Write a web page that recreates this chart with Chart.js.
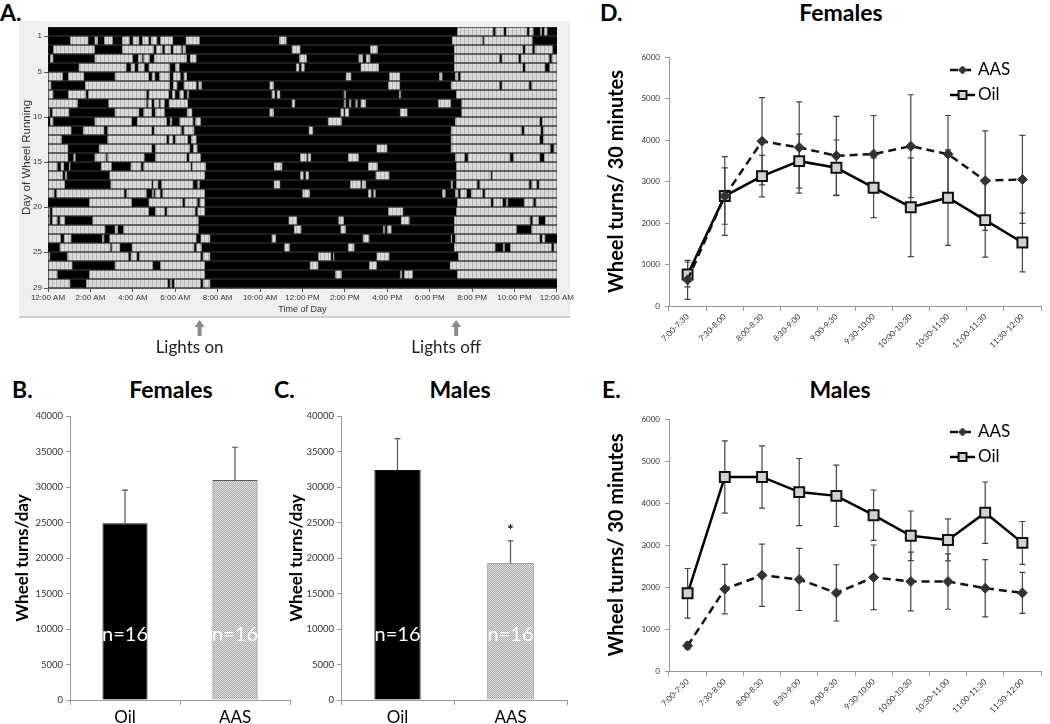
<!DOCTYPE html>
<html>
<head>
<meta charset="utf-8">
<script src="https://cdn.jsdelivr.net/npm/chart.js@4.4.0/dist/chart.umd.min.js"></script>
<style>
  body { margin: 0; width: 1050px; height: 724px; position: relative; overflow: hidden; background: #fff; font-family: Lato, sans-serif; }
  canvas { position: absolute; }
  .lbl { position: absolute; font-weight: bold; font-size: 23px; line-height: 1; white-space: nowrap; color: #000; }
  .ttl { transform: translateX(-50%); }
</style>
</head>
<body>
<div class="lbl" style="left:0;top:1px">A.</div>
<div class="lbl" style="left:12px;top:378px">B.</div>
<div class="lbl" style="left:274px;top:378px">C.</div>
<div class="lbl" style="left:600px;top:1px">D.</div>
<div class="lbl" style="left:602px;top:378px">E.</div>
<div class="lbl ttl" style="left:171px;top:378px">Females</div>
<div class="lbl ttl" style="left:460px;top:378px">Males</div>
<div class="lbl ttl" style="left:841px;top:1px">Females</div>
<div class="lbl ttl" style="left:840px;top:378px">Males</div>

<canvas id="actogram" width="575" height="365" style="left:0;top:0"></canvas>
<canvas id="barF" width="300" height="359" style="left:0;top:365px"></canvas>
<canvas id="barM" width="300" height="359" style="left:272px;top:365px"></canvas>
<canvas id="lineF" width="475" height="365" style="left:575px;top:0"></canvas>
<canvas id="lineM" width="475" height="354" style="left:575px;top:370px"></canvas>

<script>
// ---- A. actogram : gray = wheel running bouts (hours), rest of each day is black
var hourLabels = ['12:00 AM', '2:00 AM', '4:00 AM', '6:00 AM', '8:00 AM', '10:00 AM', '12:00 PM',
  '2:00 PM', '4:00 PM', '6:00 PM', '8:00 PM', '10:00 PM', '12:00 AM'];
var dayTicks = [1, 5, 10, 15, 20, 25, 29];
var runBouts = [
  [[19.3,21.0],[21.1,21.5],[21.6,22.6],[22.7,22.9],[23.2,23.3],[23.4,23.55]],
  [[1.05,1.9],[2.2,2.35],[2.65,3.05],[3.5,3.85],[4.0,4.3],[4.45,4.75],[4.85,5.15],[5.3,5.9],[6.5,7.15],[10.9,11.25],[19.05,20.5],[20.55,22.85]],
  [[0.25,2.2],[3.5,5.0],[5.1,5.4],[5.5,5.8],[5.9,6.3],[6.35,6.5],[11.5,11.9],[15.2,15.55],[19.15,22.4],[22.5,22.85],[22.95,23.8]],
  [[0.1,0.25],[2.2,4.0],[4.25,4.45],[4.5,4.8],[5.0,6.55],[6.7,7.0],[11.85,12.2],[14.65,14.85],[15.0,15.2],[19.15,21.3],[21.4,22.2],[22.3,23.65],[23.75,24]],
  [[1.45,3.7],[3.9,4.1],[4.25,4.55],[4.75,5.75],[6.0,6.2],[11.7,11.85],[11.95,12.1],[14.75,15.6],[19.15,22.4],[22.5,23.45],[23.65,24]],
  [[0,0.7],[0.95,1.7],[3.15,4.75],[4.9,5.05],[5.25,5.75],[5.9,6.25],[6.4,6.55],[14.05,14.3],[16.1,16.6],[18.45,18.6],[19.2,19.35],[19.45,24]],
  [[0,0.15],[1.75,5.75],[5.9,6.1],[6.4,7.0],[7.1,7.25],[10.45,10.65],[16.05,16.6],[19.0,21.3],[21.4,22.7],[22.8,24]],
  [[0,0.25],[0.95,1.8],[1.9,4.65],[4.75,5.7],[5.85,6.0],[6.2,6.4],[6.55,6.65],[10.55,10.7],[10.8,10.95],[13.95,14.05],[16.55,16.65],[19.25,24]],
  [[0,1.4],[2.85,4.65],[4.7,4.9],[5.0,5.25],[5.3,5.5],[5.7,6.6],[11.5,11.65],[13.95,14.05],[14.2,14.3],[14.5,14.6],[14.75,15.0],[18.4,19.0],[19.5,24]],
  [[0,0.1],[0.2,1.0],[3.15,4.3],[4.5,4.9],[5.05,5.5],[6.55,6.8],[10.45,10.65],[13.8,13.95],[14.0,14.2],[16.6,16.95],[19.5,24]],
  [[0.1,0.25],[2.2,3.95],[4.2,5.6],[5.75,5.85],[6.2,6.85],[6.95,7.2],[13.2,13.85],[19.2,23.2],[23.3,24]],
  [[0,1.1],[1.65,2.65],[2.8,4.9],[5.0,6.3],[6.4,6.9],[12.3,12.5],[19.0,22.35],[22.45,23.25],[23.35,24]],
  [[0,0.65],[2.8,5.6],[5.7,5.9],[6.0,6.6],[6.75,7.0],[19.0,23.2],[23.35,24]],
  [[0,0.95],[2.4,4.9],[5.05,6.7],[6.85,7.05],[15.5,16.0],[19.0,23.7],[23.85,24]],
  [[0,0.95],[1.2,1.3],[2.2,2.75],[2.8,4.55],[5.05,6.55],[6.65,7.2],[11.9,12.2],[12.25,12.4],[14.15,14.65],[19.2,19.65],[19.8,21.8],[21.95,23.2],[23.4,24]],
  [[0,0.45],[0.6,0.75],[1.0,1.05],[2.5,3.0],[3.9,4.4],[4.5,6.75],[6.8,7.45],[10.65,11.05],[15.1,15.55],[19.25,24]],
  [[0,0.7],[0.8,0.9],[2.9,7.4],[11.9,12.05],[12.15,12.3],[15.45,16.1],[19.25,20.9],[20.95,24]],
  [[0,0.8],[2.95,4.9],[4.95,5.2],[5.35,6.85],[7.05,7.15],[10.65,10.95],[14.25,14.75],[14.8,15.0],[19.0,19.1],[19.25,20.25],[20.35,22.7],[22.8,23.05],[23.15,24]],
  [[0,0.3],[0.4,3.6],[3.7,4.65],[4.9,5.0],[5.05,5.3],[5.4,7.4],[12.0,12.35],[15.1,15.25],[15.35,15.45],[18.6,18.75],[19.2,19.35],[19.45,19.75],[19.95,20.5],[20.6,24]],
  [[1.95,3.95],[4.75,6.35],[6.45,7.05],[7.15,7.4],[19.3,20.9],[21.0,21.45],[21.6,21.7],[22.45,22.9],[23.0,24]],
  [[0,0.1],[0.2,4.75],[5.05,5.5],[5.6,6.95],[7.05,7.4],[16.05,16.75],[19.25,24]],
  [[0,0.1],[0.2,0.45],[0.55,0.8],[2.1,7.1],[11.35,11.75],[13.7,13.95],[16.65,17.05],[19.15,22.75],[22.85,23.15],[23.45,24]],
  [[0,2.7],[3.15,3.3],[3.55,7.1],[11.6,11.95],[13.8,14.05],[15.8,15.9],[16.0,16.2],[19.15,22.1],[22.8,24]],
  [[0,0.6],[0.75,1.1],[2.55,2.65],[2.9,7.0],[7.2,7.65],[10.55,10.75],[14.85,15.15],[19.0,19.05],[19.2,23.2],[23.3,23.45]],
  [[0.55,2.95],[3.0,3.4],[3.95,6.9],[7.0,7.25],[11.15,11.4],[14.15,14.45],[19.15,21.1],[21.45,21.55],[21.8,23.75],[23.85,24]],
  [[0,0.1],[0.9,3.8],[3.9,4.2],[4.3,7.2],[7.3,7.65],[12.75,13.35],[13.45,13.5],[15.5,16.1],[19.35,24]],
  [[0,1.15],[3.15,4.95],[5.3,7.4],[12.35,12.75],[15.15,15.5],[18.95,24]],
  [[0,0.45],[1.95,7.4],[13.55,13.85],[16.6,16.7],[16.8,17.2],[19.3,24]],
  [[0,1.05],[1.8,5.65],[5.75,5.85],[5.95,7.2],[7.3,7.65]]
];
var lightMarks = [{ hour: 7.15, text: 'Lights on' }, { hour: 19.25, text: 'Lights off' }];

// ---- B./C. total wheel turns per day
var groups = ['Oil', 'AAS'];
var femaleDay = [24900, 31000];
var femaleDayErr = [4650, 4600];
var maleDay = [32400, 19250];
var maleDayErr = [4400, 3150];
var groupN = ['n=16', 'n=16'];
var maleSig = ['', '*'];

// ---- D./E. wheel turns per 30 min after lights on
var timeBins = ['7:00-7:30', '7:30-8:00', '8:00-8:30', '8:30-9:00', '9:00-9:30',
  '9:30-10:00', '10:00-10:30', '10:30-11:00', '11:00-11:30', '11:30-12:00'];
var femAAS = [630, 2650, 3970, 3820, 3620, 3660, 3850, 3660, 3020, 3050];
var femAASErr = [470, 680, 1050, 1100, 950, 930, 1240, 930, 1200, 1060];
var femOil = [760, 2650, 3130, 3490, 3330, 2850, 2380, 2610, 2070, 1530];
var femOilErr = [300, 950, 500, 650, 670, 720, 1190, 1150, 890, 710];
var malAAS = [600, 1950, 2280, 2180, 1860, 2230, 2130, 2130, 1970, 1860];
var malAASErr = [80, 590, 740, 740, 670, 770, 700, 660, 680, 490];
var malOil = [1850, 4620, 4620, 4260, 4170, 3710, 3220, 3120, 3770, 3050];
var malOilErr = [590, 860, 740, 800, 730, 600, 590, 500, 730, 510];

Chart.defaults.font.family = 'Lato, sans-serif';
Chart.defaults.color = '#222';
Chart.defaults.animation = false;
Chart.defaults.responsive = false;
Chart.defaults.plugins.legend.display = false;
Chart.defaults.plugins.tooltip.enabled = false;

// plain numbers on the value axes (no thousands comma)
function plain(v) { return String(v); }

// small repeat patterns for the gray fills
function makePattern(w, h, paint) {
  var c = document.createElement('canvas');
  c.width = w; c.height = h;
  var g = c.getContext('2d');
  paint(g);
  return g.createPattern(c, 'repeat');
}
var binFill = makePattern(4, 1, function (g) {
  g.fillStyle = '#dadada'; g.fillRect(0, 0, 4, 1);
  g.fillStyle = '#b4b4b4'; g.fillRect(0, 0, 1, 1);
});
var dotFill = makePattern(2, 2, function (g) {
  g.fillStyle = '#e4e4e4'; g.fillRect(0, 0, 2, 2);
  g.fillStyle = '#a6a6a6'; g.fillRect(0, 0, 1, 1); g.fillRect(1, 1, 1, 1);
});

// ---------------- A. actogram
var nDays = runBouts.length;
var activity = [];
for (var d = 1; d <= nDays; d++) activity.push({ x: [0, 24], y: d - 0.5 });
runBouts.forEach(function (bouts, i) {
  bouts.forEach(function (b) { activity.push({ x: b, y: i + 0.5 }); });
});

var actogramDecor = {
  id: 'actogramDecor',
  beforeDraw: function (chart) {
    var ctx = chart.ctx, a = chart.chartArea;
    ctx.save();
    ctx.fillStyle = '#efefef';
    ctx.fillRect(19, 21, 551, 296);
    ctx.fillStyle = '#cdcdcd';
    ctx.fillRect(19, 316, 551, 2);
    ctx.fillStyle = '#7c7c7c';  // shows through as thin lines between days
    ctx.fillRect(a.left, a.top, a.width, a.height);
    ctx.restore();
  },
  afterDraw: function (chart) {
    var ctx = chart.ctx, xs = chart.scales.x;
    ctx.save();
    lightMarks.forEach(function (m) {
      var x = xs.getPixelForValue(m.hour);
      ctx.fillStyle = '#8a8a8a';
      ctx.beginPath();
      ctx.moveTo(x - 5, 327); ctx.lineTo(x, 320); ctx.lineTo(x + 5, 327);
      ctx.closePath(); ctx.fill();
      ctx.fillRect(x - 2, 326, 4, 10);
      ctx.fillStyle = '#222';
      ctx.font = '17px Lato';
      ctx.textAlign = 'center';
      ctx.textBaseline = 'middle';
      ctx.fillText(m.text, x - 10, 348);
    });
    ctx.restore();
  }
};

new Chart(document.getElementById('actogram'), {
  type: 'bar',
  data: {
    datasets: [{
      data: activity,
      barThickness: 8,
      borderSkipped: false,
      backgroundColor: function (c) { return c.dataIndex < nDays ? '#000' : binFill; },
      borderColor: '#8a8a8a',
      borderWidth: function (c) { return c.dataIndex < nDays ? 0 : { left: 1, right: 1, top: 0, bottom: 0 }; }
    }]
  },
  options: {
    indexAxis: 'y',
    layout: { padding: { left: 20, right: 17, top: 27, bottom: 50 } },
    scales: {
      x: {
        type: 'linear', min: 0, max: 24,
        ticks: {
          stepSize: 2, maxRotation: 0, autoSkip: false, padding: 1,
          font: { family: 'Liberation Sans', size: 8 }, color: '#333',
          callback: function (v) { return hourLabels[Math.round(v / 2)]; }
        },
        grid: { drawOnChartArea: false, tickLength: 4, color: '#555' },
        border: { color: '#555' },
        title: { display: true, text: 'Time of Day', padding: 0, font: { family: 'Liberation Sans', size: 9 }, color: '#333' },
        afterFit: function (s) { s.height = 27; }
      },
      y: {
        type: 'linear', reverse: true, min: 0, max: 29, offset: false,
        afterBuildTicks: function (s) { s.ticks = dayTicks.map(function (v) { return { value: v }; }); },
        ticks: { padding: 2, font: { family: 'Liberation Sans', size: 8 }, color: '#333' },
        grid: { offset: false, drawOnChartArea: false, tickLength: 4, color: '#555' },
        border: { color: '#555' },
        title: { display: true, text: 'Day of Wheel Running', padding: 0, font: { family: 'Liberation Sans', size: 11.5 }, color: '#333' },
        afterFit: function (s) { s.width = 28; }
      }
    }
  },
  plugins: [actogramDecor]
});

// ---------------- error bars, shared by B-E
function drawErrors(chart) {
  var ctx = chart.ctx, ys = chart.scales.y;
  chart.data.datasets.forEach(function (ds, i) {
    if (!ds.errors) return;
    chart.getDatasetMeta(i).data.forEach(function (el, j) {
      var v = ds.data[j], e = ds.errors[j];
      var top = ys.getPixelForValue(v + e);
      var bot = ys.getPixelForValue(ds.errorUpOnly ? v : v - e);
      ctx.save();
      ctx.strokeStyle = ds.errorColor || '#444';
      ctx.lineWidth = 1.2;
      ctx.beginPath();
      ctx.moveTo(el.x, bot); ctx.lineTo(el.x, top);
      ctx.moveTo(el.x - 3, top); ctx.lineTo(el.x + 3, top);
      if (!ds.errorUpOnly) { ctx.moveTo(el.x - 3, bot); ctx.lineTo(el.x + 3, bot); }
      ctx.stroke();
      ctx.restore();
    });
  });
}
var errorBars = {
  id: 'errorBars',
  beforeDatasetsDraw: function (chart) { if (chart.config.type === 'line') drawErrors(chart); },
  afterDatasetsDraw: function (chart) { if (chart.config.type === 'bar') drawErrors(chart); }
};

// n= labels inside the bars and significance star
var barNotes = {
  id: 'barNotes',
  afterDatasetsDraw: function (chart) {
    var ctx = chart.ctx, ys = chart.scales.y;
    chart.data.datasets.forEach(function (ds, i) {
      chart.getDatasetMeta(i).data.forEach(function (el, j) {
        ctx.save();
        ctx.textAlign = 'center';
        ctx.textBaseline = 'middle';
        ctx.fillStyle = '#fff';
        ctx.font = '20px Lato';
        ctx.fillText(ds.nLabels[j], el.x, ys.getPixelForValue(9200));
        if (ds.sigMarks && ds.sigMarks[j]) {
          ctx.fillStyle = '#000';
          ctx.font = 'bold 15px Lato';
          ctx.fillText(ds.sigMarks[j], el.x, ys.getPixelForValue(ds.data[j] + ds.errors[j]) - 11);
        }
        ctx.restore();
      });
    });
  }
};

function dayChart(id, values, errs, sig, padLeft, axisWidth, padRight) {
  return new Chart(document.getElementById(id), {
    type: 'bar',
    data: {
      labels: groups,
      datasets: [{
        data: values, errors: errs, errorUpOnly: true, errorColor: '#555',
        nLabels: groupN, sigMarks: sig,
        backgroundColor: ['#000', dotFill],
        borderColor: ['#111', '#555'],
        borderWidth: 1,
        barPercentage: 0.41, categoryPercentage: 1
      }]
    },
    options: {
      layout: { padding: { left: padLeft, right: padRight, top: 51, bottom: 0 } },
      scales: {
        x: {
          ticks: { font: { size: 17 }, color: '#000', padding: 2 },
          grid: { drawOnChartArea: false, tickLength: 5, color: '#999' },
          border: { color: '#999' },
          afterFit: function (s) { s.height = 24; }
        },
        y: {
          min: 0, max: 40000,
          ticks: { stepSize: 5000, font: { size: 9.5 }, color: '#333', padding: 3, callback: plain },
          grid: { drawOnChartArea: false, tickLength: 4, color: '#999' },
          border: { color: '#999' },
          title: { display: true, text: 'Wheel turns/day', padding: 0, font: { size: 17, weight: 'bold' }, color: '#000' },
          afterFit: function (s) { s.width = axisWidth; }
        }
      }
    },
    plugins: [errorBars, barNotes]
  });
}
dayChart('barF', femaleDay, femaleDayErr, ['', ''], 12, 58, 10);
dayChart('barM', maleDay, maleDayErr, maleSig, 14, 55, 5);

// ---------------- D./E. line charts
var lineLegend = {
  id: 'lineLegend',
  afterDraw: function (chart) {
    var ctx = chart.ctx, a = chart.chartArea;
    chart.data.datasets.forEach(function (ds, i) {
      var x0 = a.right - 91, y = a.top + 13 + i * 25;
      ctx.save();
      ctx.strokeStyle = ds.borderColor;
      ctx.lineWidth = ds.borderWidth;
      ctx.setLineDash(ds.borderDash || []);
      ctx.beginPath(); ctx.moveTo(x0, y); ctx.lineTo(x0 + 25, y); ctx.stroke();
      ctx.setLineDash([]);
      ctx.fillStyle = ds.pointBackgroundColor;
      ctx.strokeStyle = ds.pointBorderColor;
      ctx.lineWidth = ds.pointBorderWidth;
      Chart.helpers.drawPoint(ctx, { pointStyle: ds.pointStyle, radius: ds.pointRadius * 0.8, borderWidth: ds.pointBorderWidth, rotation: 0 }, x0 + 12.5, y);
      ctx.fillStyle = '#000';
      ctx.font = '17px Lato';
      ctx.textBaseline = 'middle';
      ctx.fillText(ds.label, x0 + 28, y);
      ctx.restore();
    });
  }
};

function binChart(id, aas, aasErr, oil, oilErr, padTop, padBottom) {
  return new Chart(document.getElementById(id), {
    type: 'line',
    data: {
      labels: timeBins,
      datasets: [{
        label: 'AAS', data: aas, errors: aasErr,
        borderColor: '#111', borderWidth: 2.5, borderDash: [8, 5],
        pointStyle: 'rectRot', pointRadius: 5, pointBackgroundColor: '#333', pointBorderColor: '#333', pointBorderWidth: 1
      }, {
        label: 'Oil', data: oil, errors: oilErr,
        borderColor: '#000', borderWidth: 2.5,
        pointStyle: 'rect', pointRadius: 7, pointBackgroundColor: '#d2d2d2', pointBorderColor: '#111', pointBorderWidth: 2
      }]
    },
    options: {
      layout: { padding: { left: 30, right: 1, top: padTop, bottom: padBottom } },
      scales: {
        x: {
          offset: true,
          ticks: { minRotation: 45, maxRotation: 45, autoSkip: false, font: { size: 8 }, color: '#333', padding: 1 },
          grid: { offset: true, drawOnChartArea: false, tickLength: 5, color: '#999' },
          border: { color: '#999' },
          afterFit: function (s) { s.height = 52; }
        },
        y: {
          min: 0, max: 6000,
          ticks: { stepSize: 1000, font: { size: 8 }, color: '#333', padding: 5, callback: plain },
          grid: { drawOnChartArea: false, tickLength: 4, color: '#999' },
          border: { color: '#999' },
          title: { display: true, text: 'Wheel turns/ 30 minutes', padding: 0, font: { size: 20, weight: 'bold' }, color: '#000' },
          afterFit: function (s) { s.width = 64; }
        }
      }
    },
    plugins: [errorBars, lineLegend]
  });
}
binChart('lineF', femAAS, femAASErr, femOil, femOilErr, 57, 7);
binChart('lineM', malAAS, malAASErr, malOil, malOilErr, 49, 1);
</script>
</body>
</html>
